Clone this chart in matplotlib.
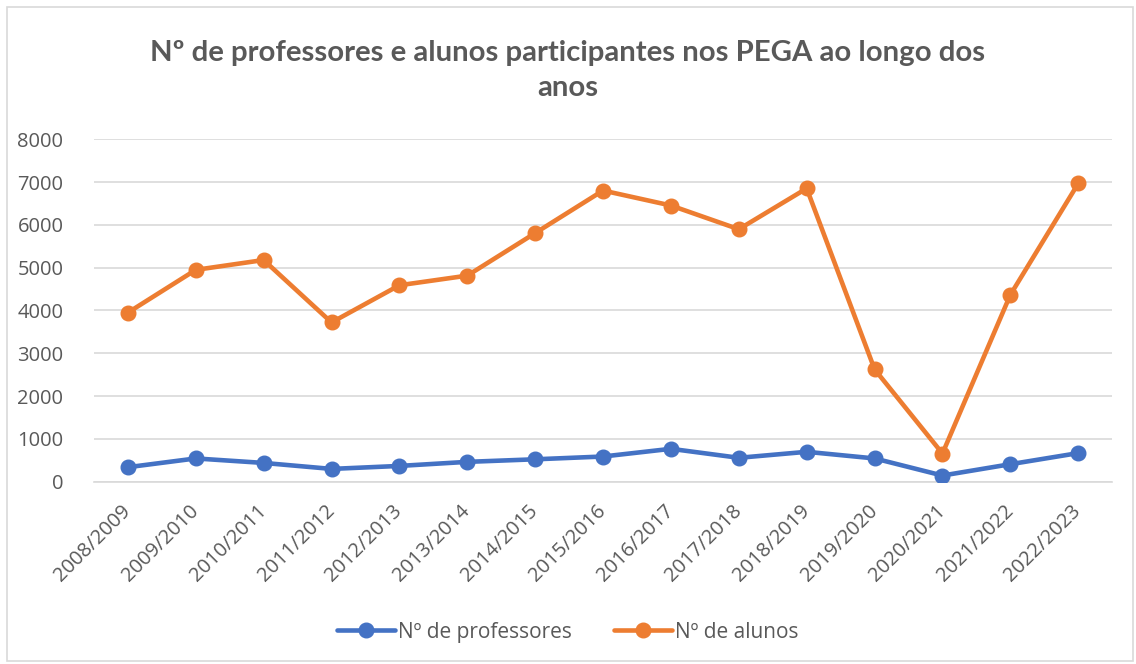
import matplotlib
matplotlib.use("Agg")
import matplotlib.pyplot as plt
from matplotlib.patches import Rectangle

years = ["2008/2009", "2009/2010", "2010/2011", "2011/2012", "2012/2013",
         "2013/2014", "2014/2015", "2015/2016", "2016/2017", "2017/2018",
         "2018/2019", "2019/2020", "2020/2021", "2021/2022", "2022/2023"]
professores = [335, 540, 435, 295, 365, 460, 520, 585, 765, 555, 695, 540, 140, 405, 665]
alunos = [3950, 4950, 5180, 3720, 4590, 4815, 5810, 6805, 6455, 5900, 6855, 2625, 655, 4365, 6970]

plt.rcParams['font.family'] = ['Open Sans', 'DejaVu Sans']
gray = '#595959'

fig = plt.figure(figsize=(11.36, 6.64), dpi=100)
ax = fig.add_axes([0.0827, 0.2748, 0.8963, 0.5152])

x = list(range(len(years)))
ax.plot(x, professores, color='#4472C4', lw=3.3, marker='o', markersize=10.5,
        label='Nº de professores', solid_capstyle='round', zorder=3)
ax.plot(x, alunos, color='#ED7D31', lw=3.3, marker='o', markersize=10.5,
        label='Nº de alunos', solid_capstyle='round', zorder=3)

ax.set_xlim(-0.5, len(years) - 0.5)
ax.set_ylim(0, 8000)
ax.set_yticks(range(0, 8001, 1000))
ax.set_xticks(x)
ax.set_xticklabels(years, rotation=45, ha='right', va='center', rotation_mode='anchor')
ax.tick_params(axis='both', length=0, colors=gray, labelsize=14.5)
ax.tick_params(axis='y', pad=22)
ax.tick_params(axis='x', pad=19)
ax.grid(axis='y', color='#D9D9D9', lw=1.2)
ax.set_axisbelow(True)
for s in ['top', 'right', 'left']:
    ax.spines[s].set_visible(False)
ax.spines['bottom'].set_color('#D9D9D9')
ax.spines['bottom'].set_linewidth(1.2)

fig.text(0.5, 0.894, 'Nº de professores e alunos participantes nos PEGA ao longo dos\nanos',
         ha='center', va='center', fontsize=21.2, fontweight='bold', color=gray,
         family=['Lato', 'DejaVu Sans'], linespacing=1.45)

leg = fig.legend(loc='center', bbox_to_anchor=(0.5, 0.048), ncol=2, frameon=False,
                 fontsize=15, handlelength=2.8, columnspacing=2.0, handletextpad=0.15)
for t in leg.get_texts():
    t.set_color(gray)

fig.patches.append(Rectangle((7 / 1136, 3 / 664), 1126 / 1136, 654 / 664,
                             transform=fig.transFigure,
                             fill=False, edgecolor='#D9D9D9', lw=1.2))

fig.savefig('out.png', dpi=100, facecolor='white')
